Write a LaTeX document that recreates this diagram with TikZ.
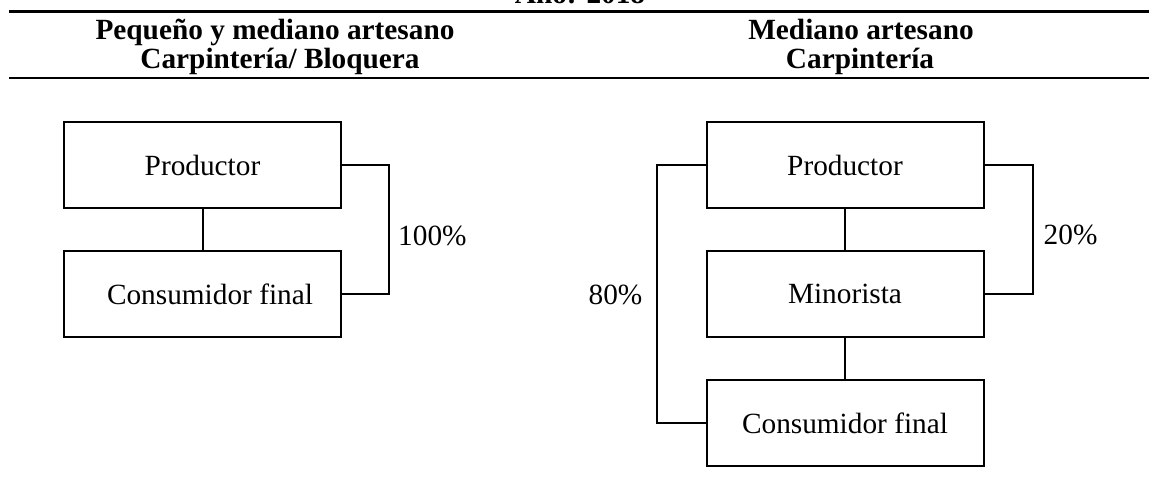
\documentclass[tikz,border=0pt]{standalone}
\usepackage{fontspec}
\setmainfont{Liberation Serif}
\begin{document}
\begin{tikzpicture}[x=1pt,y=-1pt,
  every node/.style={font=\fontsize{29.3}{33}\selectfont},
  hdr/.style={font=\fontsize{29.3}{33}\selectfont\bfseries, anchor=base, inner sep=0pt},
  box/.style={draw, line width=2pt, minimum width=277pt, minimum height=86pt, inner sep=0pt},
  conn/.style={line width=2pt},
  rulebar/.style={line width=2.5pt},
  pct/.style={inner sep=0pt}]
\useasboundingbox (0,0) rectangle (1149,501);
\clip (0,0) rectangle (1149,501);
% title (cut off at the top)
\node[hdr] (title) at (580,3.5) {Año: 2018};
% rules
\coordinate (r1a) at (9,11.5); \coordinate (r1b) at (1149,11.5);
\coordinate (r2a) at (9,78);   \coordinate (r2b) at (1149,78);
\draw[rulebar] (r1a) -- (r1b);
\draw[rulebar] (r2a) -- (r2b);
% headers
\node[hdr] (hl1) at (275,39.5) {Pequeño y mediano artesano};
\node[hdr] (hl2) at (280,68) {Carpintería/ Bloquera};
\node[hdr] (hr1) at (861,39.5) {Mediano artesano};
\node[hdr] (hr2) at (860,68) {Carpintería};
% left diagram
\node[box] (lp) at (202.5,165) {Productor};
\node[box] (lc) at (202.5,294) {\hspace*{15pt}Consumidor final};
\draw[conn] (lp.south) -- (lc.north);
\draw[conn] (lp.east) -- ++(47,0) |- (lc.east);
\node[pct, anchor=west] (l100) at (398,236) {100\%};
% right diagram
\node[box] (rp) at (845,165) {Productor};
\node[box] (rm) at (845,294) {Minorista};
\node[box] (rc) at (845,423) {Consumidor final};
\draw[conn] (rp.south) -- (rm.north);
\draw[conn] (rm.south) -- (rc.north);
\draw[conn] (rp.east) -- ++(48,0) |- (rm.east);
\draw[conn] (rp.west) -- ++(-49,0) |- (rc.west);
\node[pct, anchor=west] (r20) at (1043.5,235) {20\%};
\node[pct, anchor=east] (r80) at (642.6,295) {80\%};
\end{tikzpicture}
\end{document}
